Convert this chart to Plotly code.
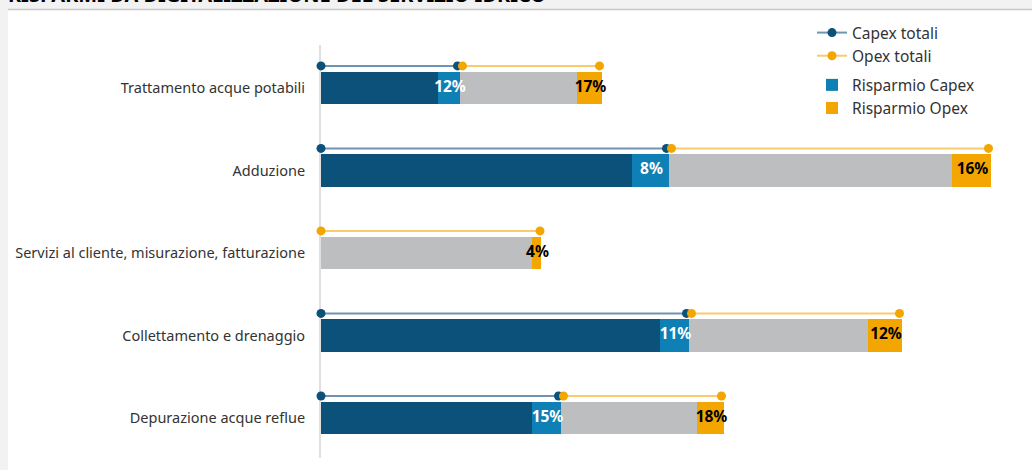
import plotly.graph_objects as go

# ---------------- data ----------------
categories = [
    "Trattamento acque potabili",
    "Adduzione",
    "Servizi al cliente, misurazione, fatturazione",
    "Collettamento e drenaggio",
    "Depurazione acque reflue",
]
capex_net = [11.7, 31.1, 0.0, 33.9, 21.1]
capex_saving = [2.2, 3.7, 0.0, 2.9, 2.9]
opex_net = [11.7, 28.3, 21.1, 17.9, 13.6]
opex_saving = [2.5, 3.9, 0.9, 3.4, 2.7]
capex_saving_pct = ["12%", "8%", "", "11%", "15%"]
opex_saving_pct = ["17%", "16%", "4%", "12%", "18%"]
title_text = "RISPARMI DA DIGITALIZZAZIONE DEL SERVIZIO IDRICO"

# ---------------- styles ----------------
C_DARK = "#0b5179"
C_LIGHT = "#0f80b5"
C_GRAY = "#bdbec0"
C_ORANGE = "#f4a600"
C_CAPEX_LINE = "#6f93b2"
C_OPEX_LINE = "#f9cb6e"
FONT = "Noto Sans"
LINE_OFF = 0.267      # vertical offset of the total lines (category units)
DOT_GAP = 0.25        # small gap so the end dots do not overlap
BAR_W = 0.39

rows = list(range(len(categories)))
capex_tot = [a + b for a, b in zip(capex_net, capex_saving)]
opex_tot = [a + b for a, b in zip(opex_net, opex_saving)]

fig = go.Figure()

# total lines (legend group 1)
cx, cy, ox, oy = [], [], [], []
for i in rows:
    ly = i - LINE_OFF
    if capex_tot[i] > 0:
        cx += [0, capex_tot[i] - DOT_GAP, None]
        cy += [ly, ly, None]
        ox += [capex_tot[i] + DOT_GAP, capex_tot[i] + opex_tot[i] - DOT_GAP, None]
    else:
        ox += [0, opex_tot[i] - DOT_GAP * 0.4, None]
    oy += [ly, ly, None]

fig.add_trace(go.Scatter(
    x=cx, y=cy, mode="lines+markers", name="Capex totali",
    line=dict(color=C_CAPEX_LINE, width=2),
    marker=dict(color=C_DARK, size=9),
    legendgroup="tot", hoverinfo="skip", cliponaxis=False))
fig.add_trace(go.Scatter(
    x=ox, y=oy, mode="lines+markers", name="Opex totali",
    line=dict(color=C_OPEX_LINE, width=2),
    marker=dict(color=C_ORANGE, size=9),
    legendgroup="tot", hoverinfo="skip", cliponaxis=False))

# stacked bars
fig.add_trace(go.Bar(y=rows, x=capex_net, orientation="h", width=BAR_W,
                     marker=dict(color=C_DARK, line=dict(width=0)),
                     showlegend=False, legendgroup="sav"))
fig.add_trace(go.Bar(y=rows, x=capex_saving, orientation="h", width=BAR_W,
                     marker=dict(color=C_LIGHT, line=dict(width=0)),
                     name="Risparmio Capex", legendgroup="sav"))
fig.add_trace(go.Bar(y=rows, x=opex_net, orientation="h", width=BAR_W,
                     marker=dict(color=C_GRAY, line=dict(width=0)),
                     showlegend=False, legendgroup="sav"))
fig.add_trace(go.Bar(y=rows, x=opex_saving, orientation="h", width=BAR_W,
                     marker=dict(color=C_ORANGE, line=dict(width=0)),
                     name="Risparmio Opex", legendgroup="sav"))

# percentage labels
cap_lbl_x = [capex_net[i] + capex_saving[i] / 2 + 0.1 for i in rows]
opx_lbl_x = [capex_tot[i] + opex_net[i] + opex_saving[i] / 2 + 0.1 for i in rows]
fig.add_trace(go.Scatter(
    x=cap_lbl_x, y=rows, mode="text", text=capex_saving_pct,
    textfont=dict(family=FONT, size=15.5, color="white", weight="bold"),
    showlegend=False, hoverinfo="skip", cliponaxis=False))
fig.add_trace(go.Scatter(
    x=opx_lbl_x, y=rows, mode="text", text=opex_saving_pct,
    textfont=dict(family=FONT, size=15.5, color="black", weight="bold"),
    showlegend=False, hoverinfo="skip", cliponaxis=False))

W, H = 1032, 470
L, R, T, B = 321, 11, 45, 12
pw, ph = W - L - R, H - T - B

def px_x(p):
    return (p - L) / pw

def px_y(p):
    return 1 + (T - p) / ph

fig.update_layout(
    width=W, height=H,
    margin=dict(l=L, r=R, t=T, b=B),
    paper_bgcolor="#f2f2f2",
    plot_bgcolor="white",
    barmode="stack",
    bargap=0.5,
    font=dict(family=FONT, size=14.5, color="#333333"),
    xaxis=dict(range=[0, 70], visible=False, fixedrange=True),
    yaxis=dict(range=[4.485, -0.52], tickvals=rows, ticktext=categories,
               showgrid=False, zeroline=False, showline=True,
               linecolor="#e0e0e0", linewidth=2, ticks="",
               ticklabelstandoff=11, layer="below traces",
               tickfont=dict(family=FONT, size=14.5, color="#333333")),
    legend=dict(xref="paper", yref="paper",
                x=px_x(812), y=px_y(16), xanchor="left", yanchor="top",
                traceorder="grouped", tracegroupgap=6,
                bgcolor="rgba(0,0,0,0)",
                font=dict(family=FONT, size=15.5, color="#333333")),
    showlegend=True,
    shapes=[
        dict(type="rect", xref="paper", yref="paper", layer="below",
             x0=px_x(8), x1=px_x(W + 20), y0=px_y(H + 20), y1=px_y(10),
             fillcolor="white", line=dict(width=0)),
        dict(type="line", xref="paper", yref="paper", layer="below",
             x0=px_x(8), x1=px_x(W + 20), y0=px_y(9.5), y1=px_y(9.5),
             line=dict(color="#c8c8c8", width=1.5)),
    ],
    annotations=[
        dict(text="<b>" + title_text + "</b>", xref="paper", yref="paper",
             x=px_x(6), y=px_y(10.5), xanchor="left", yanchor="bottom",
             showarrow=False, font=dict(family=FONT, size=20, color="black")),
    ],
)

fig.write_html("out.html")
